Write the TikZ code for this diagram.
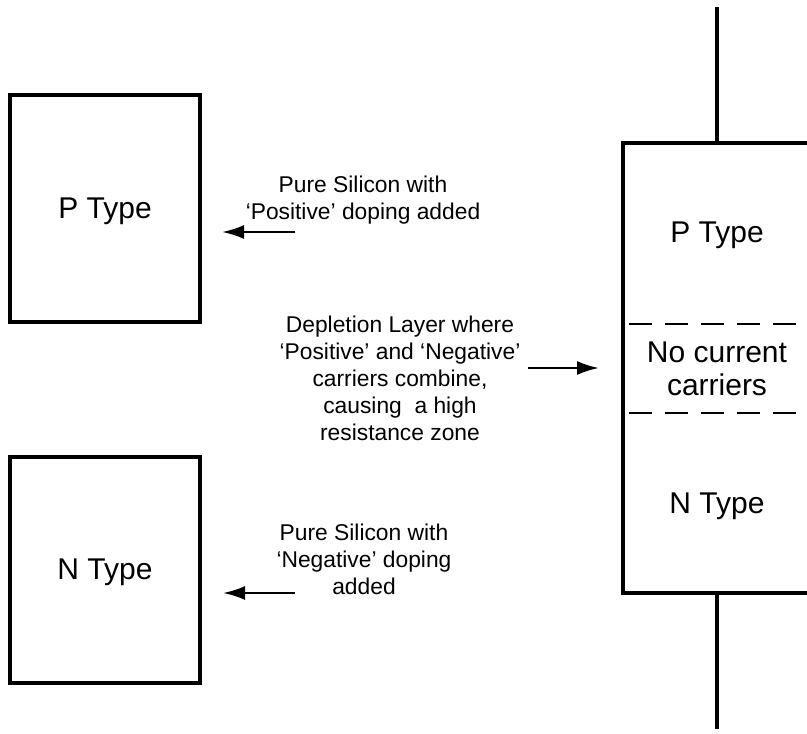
\documentclass[tikz,border=0pt]{standalone}
\usepackage{fontspec}
\setmainfont{Liberation Sans}
\usetikzlibrary{arrows.meta}
\begin{document}
\begin{tikzpicture}[x=1pt,y=-1pt,
  box/.style={draw,line width=3.5pt,inner sep=0pt},
  lbl/.style={font=\fontsize{30}{33}\selectfont,anchor=base,inner sep=0pt},
  note/.style={font=\fontsize{22.8}{27}\selectfont,align=center,anchor=base,inner sep=0pt},
  arr/.style={line width=2.5pt,-{Latex[length=22pt,width=14pt]}},
  lead/.style={line width=3.5pt},
  sep/.style={line width=2.8pt,dash pattern=on 23pt off 13pt}]
\useasboundingbox (0,0) rectangle (807,734);
\clip (0,0) rectangle (807,734);
\fill[white] (0,0) rectangle (807,734);
% separate blocks
\node[box,minimum width=190pt,minimum height=227pt] (pbox) at (105,208.5) {};
\node[box,minimum width=190pt,minimum height=226pt] (nbox) at (105,570) {};
\node[lbl] (ptxt) at (105,218) {P Type};
\node[lbl] (ntxt) at (105,579) {N Type};
% junction block
\node[box,minimum width=210pt,minimum height=450pt] (junc) at (728,368) {};
\coordinate (ltop) at (717,7);
\coordinate (lbot) at (717,729);
\draw[lead] (ltop) -- (ltop |- junc.north);
\draw[lead] (lbot) -- (lbot |- junc.south);
\coordinate (d1) at (629,324);
\coordinate (d2) at (629,413);
\coordinate (d1e) at (830,324);
\coordinate (d2e) at (830,413);
\draw[sep] (d1) -- (d1e);
\draw[sep] (d2) -- (d2e);
\node[lbl] (jp) at (717,242) {P Type};
\node[lbl] (jd1) at (717,362) {No current};
\node[lbl] (jd2) at (717,395) {carriers};
\node[lbl] (jn) at (717,513) {N Type};
% notes (base anchor = last line)
\node[note] (n1) at (363,219) {Pure Silicon with\\‘Positive’ doping added};
\node[note] (n2) at (400,440) {Depletion Layer where\\‘Positive’ and ‘Negative’\\carriers combine,\\causing\ \ a high\\resistance zone};
\node[note] (n3) at (364,594) {Pure Silicon with\\‘Negative’ doping\\added};
% arrows
\coordinate (a1s) at (295,232);
\coordinate (a1e) at (222,232);
\coordinate (a2s) at (528,368);
\coordinate (a2e) at (599,368);
\coordinate (a3s) at (295,593);
\coordinate (a3e) at (223,593);
\draw[arr] (a1s) -- (a1e);
\draw[arr] (a2s) -- (a2e);
\draw[arr] (a3s) -- (a3e);
\end{tikzpicture}
\end{document}
